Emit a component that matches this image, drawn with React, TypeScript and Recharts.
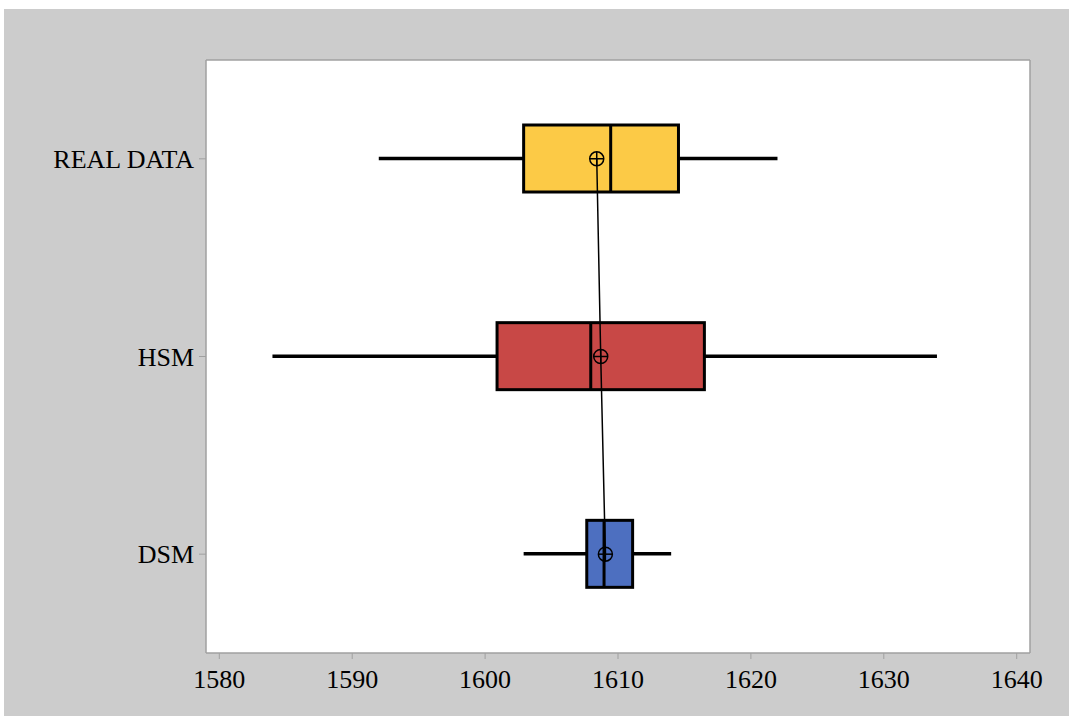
import React from 'react';
import { ComposedChart, Bar, Line, XAxis, YAxis, CartesianGrid } from 'recharts';

const groups = ['REAL DATA', 'HSM', 'DSM'];
const mins = [1592, 1584, 1602.9];
const q1s = [1602.9, 1600.9, 1607.65];
const medians = [1609.45, 1607.95, 1608.95];
const q3s = [1614.55, 1616.5, 1611.1];
const maxs = [1622, 1634, 1614];
const means = [1608.4, 1608.7, 1609.05];
const boxColors = ['#FCCA46', '#C84846', '#4D6FC0'];
const xTicks = [1580, 1590, 1600, 1610, 1620, 1630, 1640];

const data = groups.map((name, i) => ({
  name,
  min: mins[i],
  q1: q1s[i],
  median: medians[i],
  q3: q3s[i],
  max: maxs[i],
  mean: means[i],
  color: boxColors[i],
}));

const FONT = '"Liberation Serif", "Times New Roman", serif';

// whole box plot drawn inside the [min, max] range bar
const BoxShape = (props: any) => {
  const { x, y, width, height, payload } = props;
  const span = payload.max - payload.min;
  const px = (v: number) => x + ((v - payload.min) / span) * width;
  const cy = y + height / 2;
  const bx1 = px(payload.q1);
  const bx2 = px(payload.q3);
  const mx = px(payload.median);
  return (
    <g>
      <line x1={x} y1={cy} x2={bx1} y2={cy} stroke="#000" strokeWidth={3.5} />
      <line x1={bx2} y1={cy} x2={x + width} y2={cy} stroke="#000" strokeWidth={3.5} />
      <rect x={bx1} y={y} width={bx2 - bx1} height={height} fill={payload.color} stroke="#000" strokeWidth={3} />
      <line x1={mx} y1={y} x2={mx} y2={y + height} stroke="#000" strokeWidth={3} />
    </g>
  );
};

const MeanDot = (props: any) => {
  const { cx, cy, index } = props;
  const r = 7;
  return (
    <g key={`mean-${index}`}>
      <circle cx={cx} cy={cy} r={r} fill="none" stroke="#000" strokeWidth={1.5} />
      <line x1={cx - r} y1={cy} x2={cx + r} y2={cy} stroke="#000" strokeWidth={1.5} />
      <line x1={cx} y1={cy - r} x2={cx} y2={cy + r} stroke="#000" strokeWidth={1.5} />
    </g>
  );
};

const App: React.FC = () => {
  return (
    <div style={{ position: 'absolute', left: 4, top: 9, width: 1065, height: 707, background: '#cccccc' }}>
      <ComposedChart
        width={1065}
        height={707}
        data={data}
        layout="vertical"
        margin={{ top: 51, right: 39, left: 0, bottom: 33 }}
      >
        <CartesianGrid
          fill="#ffffff"
          stroke="#a0a0a0"
          strokeWidth={1.5}
          horizontalCoordinatesGenerator={({ offset }: any) => [offset.top, offset.top + offset.height]}
          verticalCoordinatesGenerator={({ offset }: any) => [offset.left, offset.left + offset.width]}
        />
        <XAxis
          type="number"
          domain={[1579, 1641]}
          ticks={xTicks}
          height={30}
          axisLine={false}
          tickSize={6}
          tickMargin={11}
          tickLine={{ stroke: '#a0a0a0' }}
          tick={{ fill: '#000', fontSize: 26, fontFamily: FONT }}
          allowDataOverflow
        />
        <YAxis
          type="category"
          dataKey="name"
          width={202}
          axisLine={false}
          tickSize={7}
          tickMargin={5}
          tickLine={{ stroke: '#a0a0a0' }}
          tick={{ fill: '#000', fontSize: 26, fontFamily: FONT }}
        />
        <Bar
          dataKey={(d: any) => [d.min, d.max]}
          barSize={67}
          shape={BoxShape}
          isAnimationActive={false}
        />
        <Line
          dataKey="mean"
          stroke="#000"
          strokeWidth={1.5}
          dot={MeanDot}
          activeDot={false}
          isAnimationActive={false}
        />
      </ComposedChart>
    </div>
  );
};

export default App;
